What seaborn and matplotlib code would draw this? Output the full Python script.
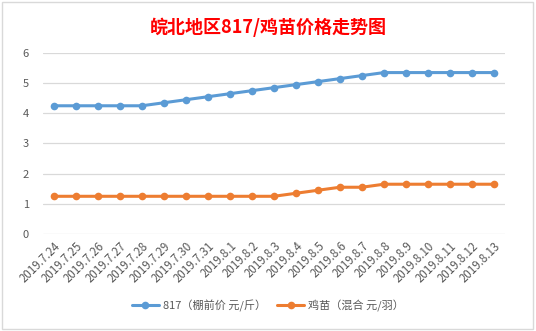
import matplotlib
matplotlib.use("Agg")
import matplotlib.pyplot as plt
import matplotlib.patches as mpatches
import seaborn as sns
import pandas as pd

dates = ["2019.7.24", "2019.7.25", "2019.7.26", "2019.7.27", "2019.7.28", "2019.7.29",
         "2019.7.30", "2019.7.31", "2019.8.1", "2019.8.2", "2019.8.3", "2019.8.4",
         "2019.8.5", "2019.8.6", "2019.8.7", "2019.8.8", "2019.8.9", "2019.8.10",
         "2019.8.11", "2019.8.12", "2019.8.13"]
price_817 = [4.25, 4.25, 4.25, 4.25, 4.25, 4.35, 4.45, 4.55, 4.65, 4.75, 4.85,
             4.95, 5.05, 5.15, 5.25, 5.35, 5.35, 5.35, 5.35, 5.35, 5.35]
price_chick = [1.25, 1.25, 1.25, 1.25, 1.25, 1.25, 1.25, 1.25, 1.25, 1.25, 1.25,
               1.35, 1.45, 1.55, 1.55, 1.65, 1.65, 1.65, 1.65, 1.65, 1.65]
series_names = ["817（棚前价 元/斤）", "鸡苗（混合 元/羽）"]
title = "皖北地区817/鸡苗价格走势图"
yticks = [0, 1, 2, 3, 4, 5, 6]

sns.set_theme(style="white")
plt.rcParams['font.family'] = ['Noto Sans CJK SC', 'DejaVu Sans']

df = pd.DataFrame({
    "x": list(range(len(dates))) * 2,
    "value": price_817 + price_chick,
    "series": [series_names[0]] * len(dates) + [series_names[1]] * len(dates),
})

fig = plt.figure(figsize=(5.36, 3.31), dpi=100)
ax = fig.add_axes([0.080, 0.293, 0.862, 0.547])

palette = {series_names[0]: "#5B9BD5", series_names[1]: "#ED7D31"}
sns.lineplot(data=df, x="x", y="value", hue="series", palette=palette,
             marker="o", markersize=5.5, markeredgewidth=0, linewidth=2.2,
             ax=ax, legend=True)

ax.set_xlim(-0.5, len(dates) - 0.5)
ax.set_ylim(0, 6)
ax.set_yticks(yticks)
ax.set_yticklabels([str(v) for v in yticks], fontsize=8, color="#595959")
ax.set_xticks(range(len(dates)))
ax.set_xticklabels(dates, rotation=45, ha="right", rotation_mode="anchor",
                   fontsize=8.3, color="#595959")
ax.tick_params(axis="both", length=0, pad=4)
ax.tick_params(axis="y", pad=10)
ax.set_xlabel("")
ax.set_ylabel("")
ax.yaxis.grid(True, color="#D9D9D9", linewidth=0.9)
ax.set_axisbelow(True)
for s in ax.spines.values():
    s.set_visible(False)

ax.legend_.remove()
handles, labels = ax.get_legend_handles_labels()
fig.legend(handles, labels, loc="center", bbox_to_anchor=(0.5, 0.077), ncol=2,
           frameon=False, fontsize=8, handlelength=2.4, columnspacing=1.0,
           handletextpad=0.4, labelcolor="#595959")

fig.text(0.5, 0.918, title, ha="center", va="center", fontsize=13,
         fontweight="bold", color="#FF0000")

fig.patches.append(mpatches.Rectangle((0.004, 0.006), 0.990, 0.988,
                                      transform=fig.transFigure, fill=False,
                                      edgecolor="#D9D9D9", linewidth=1.0))

fig.savefig("out.png", dpi=100)
